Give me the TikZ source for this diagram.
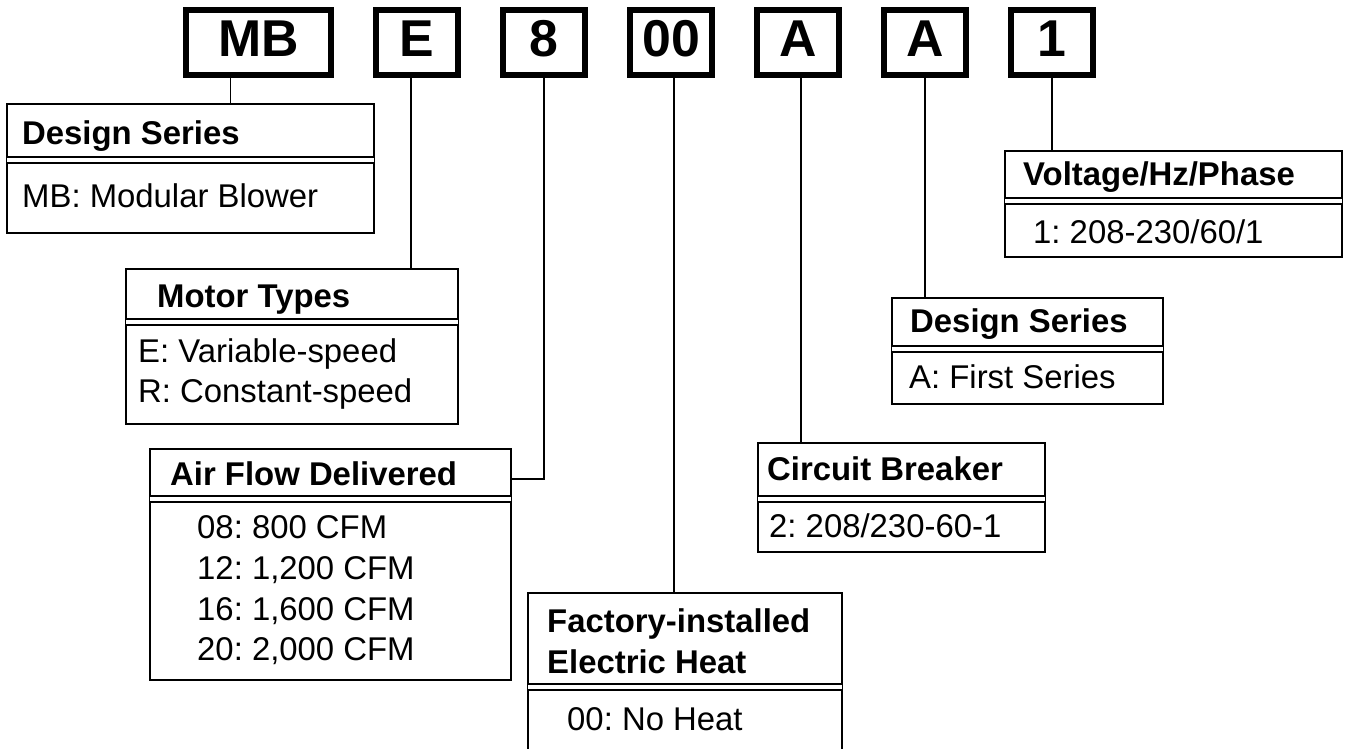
\documentclass[tikz,border=0pt]{standalone}
\usepackage{fontspec}
\setmainfont{Liberation Sans}
\usetikzlibrary{positioning, calc}
\frenchspacing

\begin{document}
\begin{tikzpicture}[x=1bp, y=-1bp, node distance=39bp]
\tikzstyle{code} = [rectangle, draw, line width=6bp, minimum width=82bp, minimum height=65bp, inner sep=0, text height=37bp, text depth=8bp, font=\fontsize{52}{60}\selectfont\bfseries]
\tikzstyle{card} = [rectangle, draw, line width=1.6bp, anchor=north west, inner sep=0, outer sep=0]
\tikzstyle{head} = [anchor=base west, inner sep=0, font=\fontsize{33}{40}\selectfont\frenchspacing\bfseries]
\tikzstyle{item} = [anchor=base west, inner sep=0, font=\fontsize{33}{40}\selectfont\frenchspacing]
\tikzstyle{rule} = [draw, double, double distance=4.5bp, line width=2bp]
\tikzstyle{wire} = [draw, line width=1.6bp]

\path [use as bounding box, fill=white] (0,0) rectangle (1345,748);

% model number boxes
\node (codeMB) [code, minimum width=145bp] at (258.5,42.5) {MB};
\node (codeE) [code, right=of codeMB] {E};
\node (code8) [code, right=of codeE] {8};
\node (code00) [code, right=of code8] {00};
\node (codeA) [code, right=of code00] {A};
\node (codeAA) [code, right=of codeA] {A};
\node (code1) [code, right=of codeAA] {1};

% description cards
\node (series) [card, minimum width=367bp, minimum height=129bp] at (7,104) {};
\node (motor) [card, minimum width=332bp, minimum height=155bp] at (126,269) {};
\node (airflow) [card, minimum width=361bp, minimum height=231bp] at (150,449) {};
\node (heat) [card, minimum width=314bp, minimum height=160bp] at (528,593) {};
\node (breaker) [card, minimum width=287bp, minimum height=109bp] at (758,443) {};
\node (series2) [card, minimum width=271bp, minimum height=106bp] at (892,298) {};
\node (voltage) [card, minimum width=337bp, minimum height=106bp] at (1005,151) {};

\draw [rule] ($(series.north west)+(0,56)$) -- ($(series.north east)+(0,56)$);
\draw [rule] ($(motor.north west)+(0,53)$) -- ($(motor.north east)+(0,53)$);
\draw [rule] ($(airflow.north west)+(0,50)$) -- ($(airflow.north east)+(0,50)$);
\draw [rule] ($(heat.north west)+(0,94)$) -- ($(heat.north east)+(0,94)$);
\draw [rule] ($(breaker.north west)+(0,56)$) -- ($(breaker.north east)+(0,56)$);
\draw [rule] ($(series2.north west)+(0,51)$) -- ($(series2.north east)+(0,51)$);
\draw [rule] ($(voltage.north west)+(0,50)$) -- ($(voltage.north east)+(0,50)$);

\node (seriesHead) [head] at ($(series.north west)+(15,40)$) {Design Series};
\node (seriesBody) [item] at ($(series.north west)+(15,103)$) {MB: Modular Blower};
\node (motorHead) [head] at ($(motor.north west)+(31,38)$) {Motor Types};
\node (motorE) [item] at ($(motor.north west)+(12,93)$) {E: Variable-speed};
\node (motorR) [item] at ($(motor.north west)+(12,133)$) {R: Constant-speed};
\node (airflowHead) [head] at ($(airflow.north west)+(20,36)$) {Air Flow Delivered};
\node (airflow08) [item] at ($(airflow.north west)+(47,89)$) {08: 800 CFM};
\node (airflow12) [item] at ($(airflow.north west)+(47,130)$) {12: 1,200 CFM};
\node (airflow16) [item] at ($(airflow.north west)+(47,171)$) {16: 1,600 CFM};
\node (airflow20) [item] at ($(airflow.north west)+(47,211)$) {20: 2,000 CFM};
\node (heatHead) [head] at ($(heat.north west)+(19,39)$) {Factory-installed};
\node (heatHead2) [head] at ($(heat.north west)+(19,80)$) {Electric Heat};
\node (heatBody) [item] at ($(heat.north west)+(39,137)$) {00: No Heat};
\node (breakerHead) [head] at ($(breaker.north west)+(9,37)$) {Circuit Breaker};
\node (breakerBody) [item] at ($(breaker.north west)+(11,94)$) {2: 208/230-60-1};
\node (series2Head) [head] at ($(series2.north west)+(18,34)$) {Design Series};
\node (series2Body) [item] at ($(series2.north west)+(17,90)$) {A: First Series};
\node (voltageHead) [head] at ($(voltage.north west)+(18,34)$) {Voltage/Hz/Phase};
\node (voltageBody) [item] at ($(voltage.north west)+(28,92)$) {1: 208-230/60/1};

% leaders
\draw [wire] ([xshift=-28bp]codeMB.south) -- ([xshift=-28bp]codeMB.south |- series.north);
\draw [wire] ([xshift=-6bp]codeE.south) -- ([xshift=-6bp]codeE.south |- motor.north);
\draw [wire] (code8.south) |- ([yshift=-30bp]airflow.north east);
\draw [wire] ([xshift=3bp]code00.south) -- ([xshift=3bp]code00.south |- heat.north);
\draw [wire] ([xshift=3bp]codeA.south) -- ([xshift=3bp]codeA.south |- breaker.north);
\draw [wire] (codeAA.south) -- (codeAA.south |- series2.north);
\draw [wire] (code1.south) -- (code1.south |- voltage.north);
\end{tikzpicture}
\end{document}
